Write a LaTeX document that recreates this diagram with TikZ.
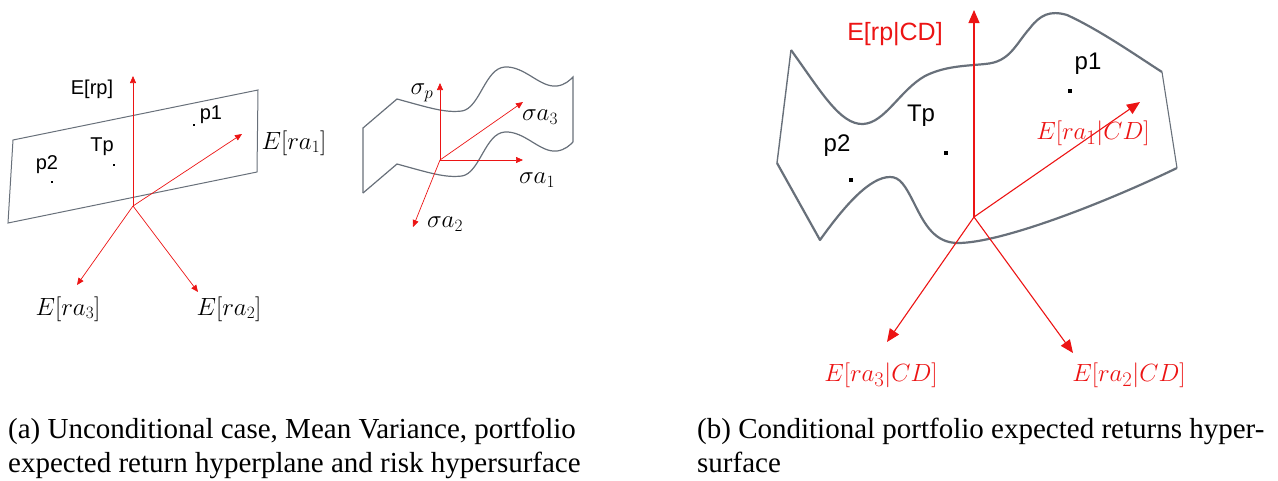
\documentclass[tikz,border=0pt]{standalone}
\usepackage{fontspec}
\setmainfont{Liberation Serif}
\newfontfamily\arialf{Liberation Sans}
\usetikzlibrary{arrows.meta}
\definecolor{surf}{RGB}{104,112,122}
\definecolor{axred}{RGB}{236,20,20}
\tikzset{
  smallax/.style={draw=axred, line width=0.7pt, -{Triangle[length=7pt,width=6pt]}},
  bigax/.style={draw=axred, line width=1.1pt, -{Triangle[length=13pt,width=11pt]}},
  lbl/.style={inner sep=0pt, font=\arialf\fontsize{20}{22}\selectfont},
  biglbl/.style={inner sep=0pt, font=\arialf\fontsize{24}{26}\selectfont},
  mlbl/.style={inner sep=0pt, font=\fontsize{25}{27}\selectfont},
  rmlbl/.style={inner sep=0pt, text=axred, font=\fontsize{28}{30}\selectfont},
  pdot/.style={fill=black, inner sep=0pt, minimum size=2.6pt, rectangle},
  bpdot/.style={fill=black, inner sep=0pt, minimum size=4pt, rectangle},
  captext/.style={inner sep=0pt, anchor=base west, font=\fontsize{29}{34}\selectfont},
}
\begin{document}
\begin{tikzpicture}[x=1pt,y=-1pt]
\useasboundingbox (0,0) rectangle (1278,480);
% ---------------- panel (a) left: hyperplane
\draw[surf, line width=1pt] (13,140) -- (258,90) -- (257,172) -- (8,223) -- cycle;
\coordinate (oa) at (133,206);
\coordinate (ta0) at (133,76);
\coordinate (ta1) at (242,134);
\coordinate (ta2) at (198,292);
\coordinate (ta3) at (77,285);
\draw[smallax] (oa) -- (ta0);
\draw[smallax] (oa) -- (ta1);
\draw[smallax] (oa) -- (ta2);
\draw[smallax] (oa) -- (ta3);
\node[lbl] (lerp) at (92,89) {E[rp]};
\node[mlbl] (lra1) at (294,143) {$E[ra_1]$};
\node[mlbl] (lra3) at (68,309) {$E[ra_3]$};
\node[mlbl] (lra2) at (229,309) {$E[ra_2]$};
\node[lbl] (lp1) at (211,115) {p1};
\node[pdot] (dp1) at (194,125) {};
\node[lbl] (ltp) at (102,147) {Tp};
\node[pdot] (dtp) at (114,165) {};
\node[lbl] (lp2) at (47,165) {p2};
\node[pdot] (dp2) at (52,182) {};
% ---------------- panel (a) middle: risk hypersurface
\draw[surf, line width=1.2pt] (363,193) -- (363,128) -- (397,99)
  .. controls (430,108) and (445,113) .. (462,111)
  .. controls (480,108) and (485,68) .. (505,67)
  .. controls (525,66) and (540,88) .. (557,86)
  .. controls (565,85) and (570,80) .. (573,77) -- (573,142);
\draw[surf, line width=1.2pt] (363,193) -- (397,164)
  .. controls (430,173) and (445,178) .. (462,176)
  .. controls (480,173) and (485,133) .. (505,132)
  .. controls (525,131) and (540,153) .. (557,151)
  .. controls (565,150) and (570,145) .. (573,142);
\coordinate (ob) at (440,160);
\coordinate (tbp) at (440,83);
\coordinate (tb3) at (523,102);
\coordinate (tb1) at (523,160);
\coordinate (tb2) at (413,227);
\draw[smallax] (ob) -- (tbp);
\draw[smallax] (ob) -- (tb3);
\draw[smallax] (ob) -- (tb1);
\draw[smallax] (ob) -- (tb2);
\node[mlbl] (lsp) at (422,93) {$\sigma_p$};
\node[mlbl] (ls3) at (540,117) {$\sigma a_3$};
\node[mlbl] (ls1) at (537,180) {$\sigma a_1$};
\node[mlbl] (ls2) at (445,224) {$\sigma a_2$};
% ---------------- panel (b)
\draw[surf, line width=2.2pt, line join=round] (791,50)
  .. controls (820,90) and (840,125) .. (863,124)
  .. controls (885,123) and (900,90) .. (925,76)
  .. controls (945,66) and (965,66) .. (985,64)
  .. controls (1010,62) and (1015,45) .. (1030,28)
  .. controls (1040,15) and (1050,10) .. (1067,15)
  .. controls (1100,30) and (1140,58) .. (1162,72);
\draw[surf, line width=1.1pt] (1162,72) -- (1177,168);
\draw[surf, line width=2.2pt, line join=round] (1177,168)
  .. controls (1100,205) and (1000,243) .. (958,243)
  .. controls (935,243) and (925,225) .. (915,205)
  .. controls (905,185) and (900,177) .. (890,177)
  .. controls (870,177) and (845,205) .. (820,240)
  -- (777,163);
\draw[surf, line width=1.4pt] (777,163) -- (791,50);
\coordinate (oc) at (974,217);
\coordinate (tc0) at (974,10);
\coordinate (tc1) at (1140,102);
\coordinate (tc2) at (1073,353);
\coordinate (tc3) at (887,342);
\draw[bigax] (oc) -- (tc0);
\draw[bigax] (oc) -- (tc1);
\draw[bigax] (oc) -- (tc2);
\draw[bigax] (oc) -- (tc3);
\node[biglbl, text=axred, font=\arialf\fontsize{25}{27}\selectfont] (lcrp) at (895,34) {E[rp|CD]};
\node[rmlbl] (lc1) at (1093,133) {$E[ra_1|CD]$};
\node[rmlbl] (lc3) at (881,375) {$E[ra_3|CD]$};
\node[rmlbl] (lc2) at (1129,375) {$E[ra_2|CD]$};
\node[biglbl] (cp1) at (1088,64) {p1};
\node[bpdot] (dcp1) at (1070,91) {};
\node[biglbl] (ctp) at (921,116) {Tp};
\node[bpdot] (dctp) at (946,153) {};
\node[biglbl] (cp2) at (837,146) {p2};
\node[bpdot] (dcp2) at (851,180) {};
% ---------------- captions
\node[captext] (capa1) at (8,438) {(a) Unconditional case, Mean Variance, portfolio};
\node[captext] (capa2) at (8,472) {expected return hyperplane and risk hypersurface};
\node[captext] (capb1) at (697,438) {(b) Conditional portfolio expected returns hyper-};
\node[captext] (capb2) at (697,472) {surface};
\end{tikzpicture}
\end{document}
